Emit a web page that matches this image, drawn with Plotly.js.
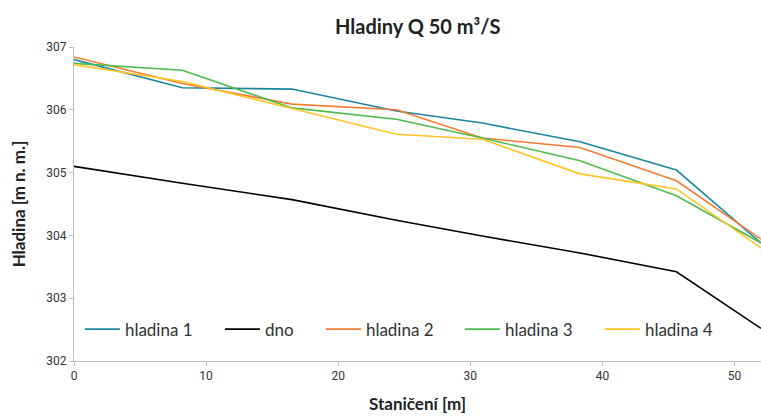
<!DOCTYPE html>
<html>
<head>
<meta charset="utf-8">
<script src="https://cdn.plot.ly/plotly-3.0.1.min.js"></script>
<style>html,body{margin:0;padding:0;background:#fff;}#chart{width:761px;height:418px;}</style>
</head>
<body>
<div id="chart"></div>
<script>
const stationing = [0, 8.2, 16.5, 24.4, 30.9, 38.3, 45.6, 52];
const hladina1 = [306.80, 306.35, 306.33, 305.98, 305.79, 305.49, 305.04, 303.88];
const dno      = [305.10, 304.83, 304.57, 304.24, 303.99, 303.72, 303.42, 302.52];
const hladina2 = [306.84, 306.42, 306.09, 306.00, 305.55, 305.40, 304.87, 303.94];
const hladina3 = [306.74, 306.63, 306.03, 305.85, 305.55, 305.19, 304.63, 303.88];
const hladina4 = [306.72, 306.45, 306.02, 305.61, 305.53, 304.98, 304.74, 303.80];
const seriesNames = ['hladina 1', 'dno', 'hladina 2', 'hladina 3', 'hladina 4'];
const seriesColors = ['#1C86A0', '#000000', '#F07D32', '#4DBB4D', '#FFC425'];
const seriesValues = [hladina1, dno, hladina2, hladina3, hladina4];
const legendPx = [79.9, 219.9, 320.9, 459.9, 599.9];

const legendIds = ['legend', 'legend2', 'legend3', 'legend4', 'legend5'];
const traces = seriesValues.map((v, i) => ({
  x: stationing, y: v, type: 'scatter', mode: 'lines', name: seriesNames[i],
  legend: legendIds[i],
  line: {color: seriesColors[i], width: 1.6}
}));

const tickFont = {family: '"Liberation Sans Narrow", "Roboto", sans-serif', size: 12, color: '#333'};
const titleFamily = 'Lato, "Open Sans", sans-serif';
const layout = {
  width: 761, height: 418,
  margin: {l: 74, r: 0, t: 47, b: 57},
  paper_bgcolor: '#fff', plot_bgcolor: '#fff',
  title: {text: '<b>Hladiny Q 50 m³/S</b>', x: 0.549, xanchor: 'center', y: 0.935, yanchor: 'middle',
          font: {family: titleFamily, size: 20, color: '#222'}},
  xaxis: {range: [0, 52], tickvals: [0, 10, 20, 30, 40, 50], showgrid: false, zeroline: false,
          showline: true, linecolor: '#bfbfbf', linewidth: 1, ticks: 'outside', ticklen: 4, tickcolor: '#bfbfbf',
          tickfont: tickFont,
          title: {text: '<b>Staničení [m]</b>', standoff: 15, font: {family: titleFamily, size: 17, color: '#222'}}},
  yaxis: {range: [302, 307], dtick: 1, showgrid: false, zeroline: false,
          showline: true, linecolor: '#bfbfbf', linewidth: 1, ticks: 'outside', ticklen: 4, tickcolor: '#bfbfbf',
          tickfont: tickFont,
          title: {text: '<b>Hladina [m n. m.]</b>', standoff: 16, font: {family: titleFamily, size: 17, color: '#222'}}},
  showlegend: true
};
legendIds.forEach((id, i) => {
  layout[id] = {orientation: 'h', x: (legendPx[i] - 74) / 687, y: 0.1, xanchor: 'left', yanchor: 'middle',
    itemwidth: 35, bgcolor: 'rgba(0,0,0,0)', font: {family: titleFamily, size: 17, color: '#333'}};
});
Plotly.newPlot('chart', traces, layout, {staticPlot: true, displayModeBar: false});
</script>
</body>
</html>
